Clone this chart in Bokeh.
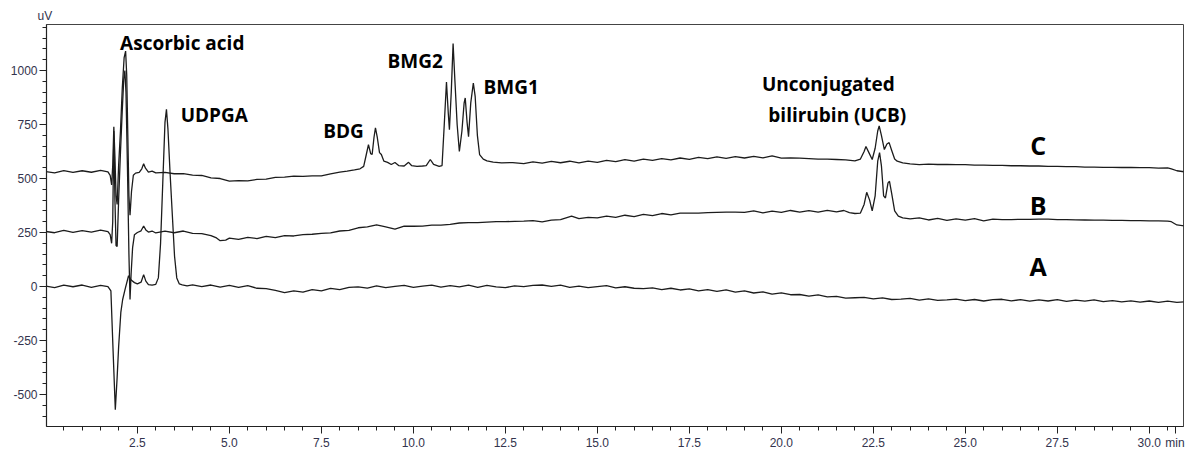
from bokeh.plotting import figure
from bokeh.models import ColumnDataSource, FixedTicker, PrintfTickFormatter, Range1d, Title
from bokeh.core.properties import value
from bokeh.embed import file_html
from bokeh.resources import INLINE

# ---- Trace A (blank / control) : time (min), signal (uV)
tA = [0.0, 0.25, 0.5, 0.75, 1.0, 1.25, 1.5, 1.7, 1.78, 1.84, 1.9, 1.95, 1.99, 2.05, 2.1, 2.17, 2.26, 2.33,
      2.42, 2.5, 2.6, 2.67, 2.73, 2.8, 2.9, 3.0, 3.07, 3.13, 3.19, 3.25, 3.29, 3.33, 3.39, 3.45, 3.51, 3.57,
      3.64, 3.72, 3.85, 4.0, 4.25, 4.5, 4.75, 5.0, 5.25, 5.5, 5.75, 6.0, 6.25, 6.5, 6.75, 7.0, 7.25, 7.5,
      7.75, 8.0, 8.25, 8.5, 8.75, 9.0, 9.25, 9.5, 9.75, 10.0, 10.25, 10.5, 10.75, 11.0, 11.25, 11.5, 11.75,
      12.0, 12.25, 12.5, 12.75, 13.0, 13.25, 13.5, 13.75, 14.0, 14.25, 14.5, 14.75, 15.0, 15.25, 15.5,
      15.75, 16.0, 16.25, 16.5, 16.75, 17.0, 17.25, 17.5, 17.75, 18.0, 18.25, 18.5, 18.75, 19.0, 19.25,
      19.5, 19.75, 20.0, 20.25, 20.5, 20.75, 21.0, 21.25, 21.5, 21.75, 22.0, 22.25, 22.5, 22.75, 23.0,
      23.25, 23.5, 23.75, 24.0, 24.25, 24.5, 24.75, 25.0, 25.25, 25.5, 25.75, 26.0, 26.25, 26.5, 26.75,
      27.0, 27.25, 27.5, 27.75, 28.0, 28.25, 28.5, 28.75, 29.0, 29.25, 29.5, 29.75, 30.0, 30.25, 30.5,
      30.75, 31.0]
vA = [2, -5, 6, -1, 7, -4, 5, 0, -20, -300, -570, -420, -280, -120, -60, -10, 50, 30,
      18, 12, 20, 55, 25, 9, 6, 10, 40, 200, 480, 760, 820, 730, 520, 330, 140, 40,
      12, 8, 3, 8, 0, 7, -3, 5, -4, 4, -8, -10, -18, -28, -20, -26, -14, -20,
      -9, -14, -4, -2, -7, 3, -5, 1, 5, -4, 2, 6, -3, 4, -2, 6, -4,
      5, -2, -5, 3, 0, 5, 7, 1, 6, -4, 2, -5, 0, 4, -6,
      -1, -8, -10, -6, -14, -8, -16, -11, -20, -14, -22, -16, -26, -20, -30,
      -25, -35, -29, -38, -37, -44, -39, -48, -46, -54, -52, -50, -57, -53, -60,
      -58, -55, -63, -57, -64, -62, -58, -65, -60, -67, -61, -59, -66, -61, -68,
      -62, -67, -61, -69, -63, -68, -62, -70, -65, -71, -66, -72, -67, -73, -68,
      -73, -70]

# ---- Trace B
tB = [0.0, 0.25, 0.5, 0.75, 1.0, 1.25, 1.5, 1.7, 1.76, 1.8, 1.83, 1.86, 1.89, 1.92, 1.95, 1.99, 2.04, 2.09,
      2.13, 2.16, 2.19, 2.23, 2.27, 2.3, 2.33, 2.37, 2.42, 2.5, 2.6, 2.67, 2.73, 2.8, 2.9, 3.0, 3.25, 3.5,
      3.75, 4.0, 4.25, 4.5, 4.65, 4.75, 4.9, 5.0, 5.25, 5.5, 5.75, 6.0, 6.25, 6.5, 6.75, 7.0, 7.25, 7.5,
      7.75, 8.0, 8.25, 8.5, 8.75, 9.0, 9.25, 9.5, 9.75, 10.0, 10.25, 10.5, 10.75, 11.0, 11.25, 11.5, 11.75,
      12.0, 12.25, 12.5, 12.75, 13.0, 13.25, 13.5, 13.75, 14.0, 14.3, 14.5, 14.75, 15.0, 15.25, 15.5, 15.75,
      16.0, 16.25, 16.5, 16.75, 17.0, 17.25, 17.5, 17.75, 18.0, 18.25, 18.5, 18.75, 19.0, 19.25, 19.5,
      19.75, 20.0, 20.25, 20.5, 20.75, 21.0, 21.25, 21.5, 21.7, 21.85, 22.0, 22.15, 22.25, 22.32, 22.4,
      22.47, 22.55, 22.62, 22.67, 22.72, 22.78, 22.83, 22.9, 22.94, 23.0, 23.08, 23.18, 23.3, 23.5, 23.75,
      24.0, 24.25, 24.5, 24.75, 25.0, 25.25, 25.5, 25.75, 26.0, 26.25, 26.5, 26.75, 27.0, 27.25, 27.5,
      27.75, 28.0, 28.25, 28.5, 28.75, 29.0, 29.25, 29.5, 29.75, 30.0, 30.25, 30.5, 30.6, 30.75, 31.0]
vB = [255, 249, 260, 251, 259, 252, 261, 254, 240, 200, 300, 720, 400, 190, 185, 400, 620, 820,
      960, 1000, 900, 550, 150, -60, 60, 180, 240, 250, 258, 280, 262, 252, 257, 248, 256, 249,
      257, 246, 245, 236, 225, 212, 215, 224, 218, 228, 222, 232, 226, 236, 234, 240, 242, 246,
      248, 257, 260, 272, 276, 285, 276, 266, 280, 279, 280, 284, 284, 288, 294, 296, 296,
      298, 300, 300, 302, 303, 305, 299, 307, 310, 326, 314, 320, 318, 326, 320, 330,
      324, 334, 328, 338, 332, 340, 340, 340, 342, 343, 344, 344, 343, 350, 341,
      349, 343, 352, 344, 351, 344, 353, 346, 352, 342, 338, 340, 380, 436, 400,
      350, 420, 580, 620, 560, 420, 410, 480, 487, 430, 350, 326, 318, 313, 318,
      308, 315, 306, 313, 307, 314, 304, 312, 310, 310, 311, 311, 312, 312, 310,
      310, 309, 308, 307, 307, 306, 306, 305, 305, 304, 304, 303, 300, 285, 280]

# ---- Trace C
tC = [0.0, 0.25, 0.5, 0.75, 1.0, 1.25, 1.5, 1.7, 1.76, 1.8, 1.83, 1.86, 1.89, 1.92, 1.95, 1.99, 2.04, 2.09,
      2.14, 2.18, 2.21, 2.24, 2.27, 2.3, 2.34, 2.39, 2.45, 2.55, 2.62, 2.67, 2.72, 2.8, 2.9, 3.0, 3.25, 3.5,
      3.75, 4.0, 4.25, 4.5, 4.75, 5.0, 5.25, 5.5, 5.75, 6.0, 6.25, 6.5, 6.75, 7.0, 7.25, 7.5, 7.75, 8.0,
      8.2, 8.4, 8.55, 8.65, 8.72, 8.78, 8.84, 8.88, 8.93, 8.97, 9.02, 9.08, 9.13, 9.2, 9.3, 9.4, 9.5, 9.6,
      9.75, 9.87, 9.95, 10.1, 10.25, 10.35, 10.46, 10.55, 10.7, 10.78, 10.84, 10.9, 10.95, 10.98, 11.03,
      11.08, 11.13, 11.19, 11.25, 11.32, 11.38, 11.41, 11.46, 11.5, 11.56, 11.63, 11.68, 11.74, 11.8, 11.9,
      12.0, 12.17, 12.4, 12.7, 13.0, 13.25, 13.5, 13.75, 14.0, 14.25, 14.5, 14.75, 15.0, 15.25, 15.5,
      15.75, 16.0, 16.25, 16.5, 16.75, 17.0, 17.25, 17.5, 17.75, 18.0, 18.25, 18.5, 18.75, 19.0, 19.25,
      19.5, 19.75, 20.0, 20.25, 20.5, 20.75, 21.0, 21.25, 21.5, 21.75, 22.0, 22.15, 22.25, 22.3, 22.38,
      22.47, 22.55, 22.62, 22.66, 22.72, 22.8, 22.87, 22.93, 23.0, 23.08, 23.15, 23.3, 23.5, 23.75, 24.0,
      24.25, 24.5, 24.75, 25.0, 25.25, 25.5, 25.75, 26.0, 26.25, 26.5, 26.75, 27.0, 27.25, 27.5, 27.75,
      28.0, 28.25, 28.5, 28.75, 29.0, 29.25, 29.5, 29.75, 30.0, 30.25, 30.5, 30.6, 30.75, 31.0]
vC = [532, 526, 537, 528, 536, 529, 538, 531, 515, 470, 560, 740, 600, 420, 380, 560, 720, 920,
      1060, 1090, 980, 700, 420, 330, 440, 515, 525, 528, 545, 568, 548, 530, 534, 526, 528, 522,
      523, 516, 514, 503, 500, 488, 490, 489, 496, 497, 505, 506, 511, 510, 512, 512, 522, 530,
      534, 540, 545, 556, 610, 657, 615, 611, 690, 735, 690, 620, 611, 580, 575, 565, 574, 560,
      558, 575, 560, 556, 558, 560, 588, 565, 556, 560, 750, 947, 800, 726, 900,
      1125, 950, 750, 625, 720, 850, 873, 760, 694, 850, 942, 880, 700, 611, 590,
      582, 576, 572, 574, 569, 577, 571, 579, 573, 580, 572, 581, 575, 584, 578,
      587, 581, 590, 584, 592, 586, 595, 589, 598, 592, 600, 593, 601, 595, 603,
      596, 605, 594, 596, 594, 592, 590, 590, 588, 586, 582, 590, 625, 648, 620,
      588, 640, 720, 744, 700, 634, 660, 666, 630, 590, 580, 572, 568, 564, 567,
      565, 565, 564, 564, 562, 562, 561, 561, 559, 559, 558, 558, 556, 556, 555,
      555, 553, 553, 552, 552, 551, 551, 550, 550, 548, 549, 545, 536, 530]

# ---- Annotations
peak_labels = ["Ascorbic acid", "UDPGA", "BDG", "BMG2", "BMG1", "Unconjugated", "bilirubin (UCB)"]
peak_label_x = [3.72, 4.59, 8.10, 10.05, 12.66, 21.28, 21.52]
peak_label_y = [1127, 792, 722, 1045, 925, 939, 796]

trace_labels = ["C", "B", "A"]
trace_label_x = [26.98, 26.98, 26.98]
trace_label_y = [653, 377, 97]

x_major = [2.5, 5.0, 7.5, 10.0, 12.5, 15.0, 17.5, 20.0, 22.5, 25.0, 27.5, 30.0]
x_unit_pos = 30.7
x_unit_text = "min"
y_unit_text = "uV"
x_minor = [0.5 * i for i in range(1, 62)]
y_major = [-500, -250, 0, 250, 500, 750, 1000]
y_minor = [-600 + 50 * i for i in range(0, 37)]

TICK_COLOR = "#33334d"
LINE_COLOR = "#1c1c1c"

p = figure(width=1187, height=452, output_backend="svg", toolbar_location=None,
           x_range=Range1d(0.03, 30.93), y_range=Range1d(-648, 1213),
           min_border_left=46, min_border_right=4, min_border_top=24, min_border_bottom=23)

p.grid.visible = False
p.outline_line_color = "#444444"
p.outline_line_width = 1
p.background_fill_color = "white"
p.border_fill_color = "white"

for t, v in ((tA, vA), (tB, vB), (tC, vC)):
    src = ColumnDataSource(dict(t=t, v=v))
    p.line("t", "v", source=src, line_color=LINE_COLOR, line_width=1.3)

lab_src = ColumnDataSource(dict(x=peak_label_x, y=peak_label_y, text=peak_labels))
p.text("x", "y", text="text", source=lab_src, text_font=value("Open Sans"), text_font_style="bold",
       text_font_size="19px", text_align="center", text_baseline="middle", text_color="black")

tr_src = ColumnDataSource(dict(x=trace_label_x, y=trace_label_y, text=trace_labels))
p.text("x", "y", text="text", source=tr_src, text_font=value("Open Sans"), text_font_style="bold",
       text_font_size="25px", text_align="center", text_baseline="middle", text_color="black")

# axes
for ax in (p.xaxis[0], p.yaxis[0]):
    ax.axis_line_color = "#222222"
    ax.axis_line_width = 1.2
    ax.major_tick_line_color = "#222222"
    ax.minor_tick_line_color = "#222222"
    ax.major_tick_in = 0
    ax.minor_tick_in = 0
    ax.major_tick_out = 7
    ax.minor_tick_out = 4
    ax.major_label_text_font = "Liberation Sans"
    ax.major_label_text_font_size = "12px"
    ax.major_label_text_color = TICK_COLOR

p.xaxis.ticker = FixedTicker(ticks=x_major + [x_unit_pos], minor_ticks=x_minor)
p.xaxis.formatter = PrintfTickFormatter(format="%.1f")
p.xaxis.major_label_overrides = {x_unit_pos: x_unit_text}
p.xaxis.major_label_standoff = 2
p.yaxis.ticker = FixedTicker(ticks=y_major, minor_ticks=y_minor)
p.yaxis.formatter = PrintfTickFormatter(format="%d")
p.yaxis.major_label_standoff = 2

p.add_layout(Title(text=y_unit_text, align="left", offset=-9, standoff=3,
                   text_font="Liberation Sans", text_font_size="12px", text_font_style="normal",
                   text_color=TICK_COLOR), "above")

open("out.html", "w").write(file_html(p, INLINE))
